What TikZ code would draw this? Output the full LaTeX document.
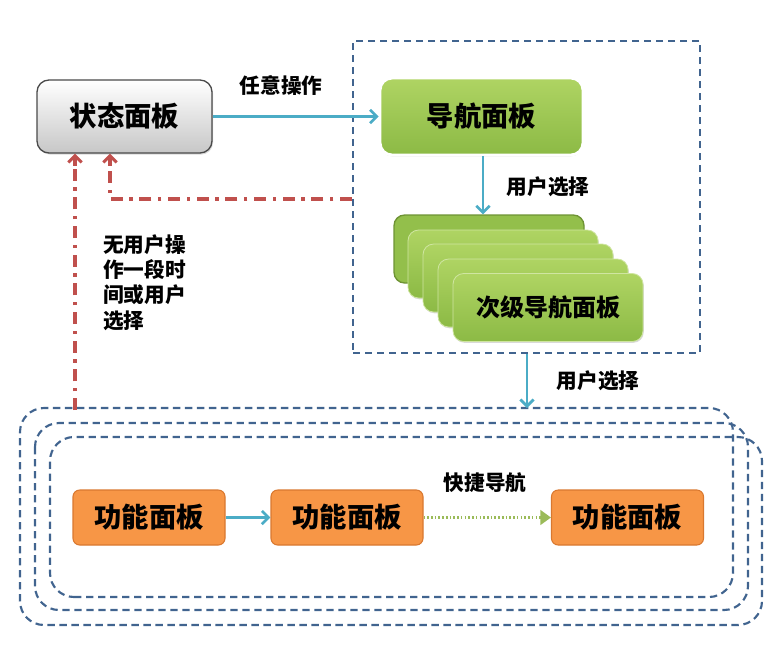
\documentclass[tikz,border=0pt]{standalone}
\usepackage{fontspec}
\setmainfont{Noto Sans CJK SC}
\usetikzlibrary{arrows.meta,shadows,calc}
\definecolor{arrowblue}{HTML}{4BACC6}
\definecolor{dashred}{HTML}{C0504D}
\definecolor{frameblue}{HTML}{41648F}
\definecolor{navtop}{HTML}{AFD463}
\definecolor{navbot}{HTML}{8CBA45}
\definecolor{stackedge}{HTML}{6E9334}
\definecolor{dotgreen}{HTML}{9BBB59}
\definecolor{orangefill}{HTML}{F79646}
\definecolor{orangeedge}{HTML}{D9782F}
\definecolor{grayedge}{HTML}{4A4A4A}
\begin{document}
\begin{tikzpicture}[x=0.75pt,y=-0.75pt,
  bigtext/.style={font=\bfseries\fontsize{20.5}{25}\selectfont},
  midtext/.style={font=\bfseries\fontsize{18}{22}\selectfont},
  lbl/.style={font=\bfseries\fontsize{15.5}{19}\selectfont, inner sep=0pt},
  statebox/.style={rounded corners=9pt, draw=grayedge, line width=1pt,
    top color=white, bottom color=black!22, minimum width=175*0.75pt,
    minimum height=73*0.75pt, inner sep=0pt, bigtext,
    drop shadow={shadow xshift=0.8pt, shadow yshift=-1.2pt, opacity=0.3}},
  navbox/.style={rounded corners=9pt, draw=white, line width=2.2pt,
    top color=navtop, bottom color=navbot, minimum width=203*0.75pt,
    minimum height=77*0.75pt, inner sep=0pt, bigtext,
    drop shadow={shadow xshift=0pt, shadow yshift=-1pt, opacity=0.3}},
  stackbox/.style={rounded corners=8pt, draw=navtop!60!white, line width=0.6pt,
    top color=navtop, bottom color=navbot, minimum width=190*0.75pt,
    minimum height=68*0.75pt, inner sep=0pt, midtext,
    drop shadow={shadow xshift=0.6pt, shadow yshift=-1pt, opacity=0.3}},
  backbox/.style={rounded corners=8pt, draw=stackedge, line width=1pt,
    fill=navbot!80!navtop, minimum width=190*0.75pt,
    minimum height=68*0.75pt, inner sep=0pt},
  funcbox/.style={rounded corners=5pt, draw=orangeedge, line width=0.8pt,
    fill=orangefill, minimum width=152*0.75pt, minimum height=55*0.75pt,
    inner sep=0pt, bigtext},
  framebox/.style={draw=frameblue, line width=1.6pt, dash pattern=on 5.5pt off 3.5pt},
  bluearrow/.style={draw=arrowblue, line width=2.2pt,
    -{Straight Barb[length=5pt,width=10pt,line width=2pt]}},
  redline/.style={draw=dashred, line width=2.4pt,
    dash pattern=on 9pt off 5pt on 2.5pt off 5pt},
  redtip/.style={draw=dashred, line width=2.4pt,
    -{Straight Barb[length=5pt,width=10pt,line width=2.2pt]}},
  greenarrow/.style={draw=dotgreen, line width=2.6pt,
    dash pattern=on 1.2pt off 1.6pt,
    -{Triangle[length=8pt,width=11pt,fill=dotgreen,sep=0pt]}}
]
\useasboundingbox (0,0) rectangle (781,647);

% top navigation container
\node[framebox, minimum width=347*0.75pt, minimum height=312*0.75pt, inner sep=0pt]
  (navframe) at (526.5,197) {};

% state panel
\node[statebox] (state) at (124.5,116.5) {状态面板};

% navigation panel
\node[navbox] (nav) at (481.5,116.5) {导航面板};

% secondary stack
\node[backbox] (s1) at (489,249) {};
\node[stackbox] (s2) at (503,264) {};
\node[stackbox] (s3) at (518,278) {};
\node[stackbox] (s4) at (533,293) {};
\node[stackbox] (s5) at (548,307.5) {次级导航面板};

% bottom frames
\draw[framebox, rounded corners=18pt] (35,423) rectangle (748,610);
\draw[framebox, rounded corners=18pt] (50,597) -- (733,597) -- (733,408) -- (20,408)
  -- (20,625) -- (762,625) -- (762,437) -- (50,437) -- cycle;
\coordinate (ftop) at (527,408);

% function panels
\node[funcbox] (f1) at (149,517.5) {功能面板};
\node[funcbox] (f2) at (347,517.5) {功能面板};
\node[funcbox] (f3) at (627.5,517.5) {功能面板};

% connectors
\draw[bluearrow] (state.east) -- (nav.west);
\node[lbl] at (281,86) {任意操作};

\draw[bluearrow] (nav.south -| 483,0) -- (s1.north -| 483,0);
\node[lbl] at (548,187) {用户选择};

\draw[bluearrow] (navframe.south -| ftop) -- (ftop);
\node[lbl] at (598,381) {用户选择};

\draw[bluearrow] (f1.east) -- (f2.west);
\draw[greenarrow] (f2.east) -- (f3.west);
\node[lbl] at (485,483) {快捷导航};

\coordinate (r1) at (state.south -| 110,0);
\coordinate (r2) at (state.south -| 75,0);
\draw[redline] (navframe.west |- 0,199) -| ($(r1)+(0,12)$);
\draw[redtip] ($(r1)+(0,12)$) -- (r1);
\draw[redline] (75,410) -- ($(r2)+(0,12)$);
\draw[redtip] ($(r2)+(0,12)$) -- (r2);
\node[lbl, anchor=north west, align=left] at (103,234)
  {无用户操\\作一段时\\间或用户\\选择};
\end{tikzpicture}
\end{document}
